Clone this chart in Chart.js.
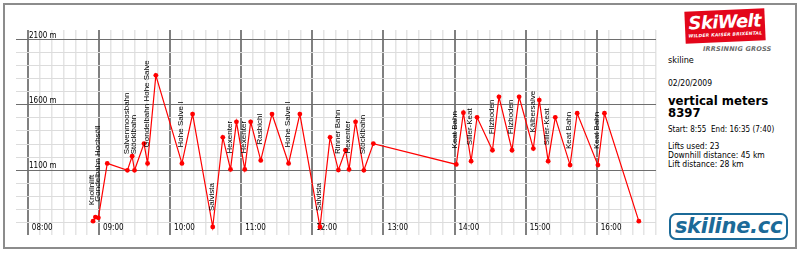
<!DOCTYPE html>
<html>
<head>
<meta charset="utf-8">
<script src="https://cdn.jsdelivr.net/npm/chart.js@4.4.1/dist/chart.umd.min.js"></script>
<style>
  body { margin: 0; background: #fff; }
  #wrap { position: relative; width: 800px; height: 253px; overflow: hidden; background: #fff;
          font-family: "DejaVu Sans Condensed", "DejaVu Sans", sans-serif; color: #000; }
  #frame { position: absolute; left: 3px; top: 3px; width: 790px; height: 242px; border: 2px solid #8c8c8c; }
  #chartBox { position: absolute; left: -10px; top: 0; }
  .t { position: absolute; left: 668px; white-space: nowrap; line-height: 1; }
  .b { font-size: 13px; font-weight: bold; }
  #skiwelt { position: absolute; left: 685px; top: 10px; width: 80px; height: 32px; background: #e3061a;
             transform: rotate(-2.5deg); color: #fff; text-align: center; overflow: hidden; }
  #skiwelt .big { font: italic bold 18px "DejaVu Sans", sans-serif; line-height: 1; margin-top: 3px; letter-spacing: -0.6px; }
  #skiwelt .small { font: italic bold 4.5px "DejaVu Sans", sans-serif; line-height: 1; margin-top: 2px; letter-spacing: 0.2px; }
  #irr { position: absolute; left: 703px; top: 46px; font: italic bold 6.5px "DejaVu Sans", sans-serif; color: #6a6a6a; letter-spacing: 0.2px; line-height: 1; }
  #skiline { position: absolute; left: 669px; top: 213px; width: 115px; height: 23px; border: 2px solid #1b6a98;
             border-radius: 7px; color: #1b6a98; font: italic bold 21px "DejaVu Sans", sans-serif;
             line-height: 23px; text-align: center; letter-spacing: -0.3px; }
</style>
</head>
<body>
<div id="wrap">
  <div id="frame"></div>
  <div id="chartBox"><canvas id="runChart" width="670" height="253"></canvas></div>
  <div id="skiwelt"><div class="big">SkiWelt</div><div class="small">WILDER KAISER BRIXENTAL</div></div>
  <div id="irr">IRRSINNIG GROSS</div>
  <div class="t" style="top:56px;font-size:9px">skiline</div>
  <div class="t" style="top:79px;font-size:8.5px">02/20/2009</div>
  <div class="t b" style="top:94px">vertical meters</div>
  <div class="t b" style="top:105.5px">8397</div>
  <div class="t" style="top:125.5px;font-size:8px">Start: 8:55&nbsp; End: 16:35 (7:40)</div>
  <div class="t" style="top:142px;font-size:8.5px">Lifts used: 23</div>
  <div class="t" style="top:151px;font-size:8.5px">Downhill distance: 45 km</div>
  <div class="t" style="top:160px;font-size:8.5px">Lift distance: 28 km</div>
  <div id="skiline">skiline.cc</div>
</div>
<script>
// time of day in minutes since midnight, elevation in metres
const times = [535, 537, 539.5, 547, 564, 568, 570, 578, 581, 588,
               610, 619, 636, 644.5, 651, 656, 663, 668, 676.5, 686,
               700, 709.5, 726.5, 735, 742, 748, 751, 756.5, 763.5, 771.5,
               841.5, 847.5, 854, 859, 872, 877.5, 888.5, 894.5, 906.5, 911.5,
               919, 925, 937.5, 943.5, 961, 966.5, 995.5];
const elevations = [708, 739, 733, 1151, 1098, 1206, 1098, 1303, 1151, 1827,
                    1151, 1530, 663, 1351, 1105, 1470, 1105, 1470, 1174, 1530,
                    1151, 1530, 663, 1351, 1100, 1252, 1105, 1470, 1098, 1303,
                    1143, 1540, 1168, 1505, 1252, 1662, 1252, 1662, 1265, 1637,
                    1168, 1505, 1138, 1536, 1138, 1536, 708];
// lift taken at each point (null = downhill run / lift top)
const liftNames = ['Knollnlift', null, 'Gondelbahn Hochsöll', null, 'Salvenmoosbahn', null, 'Stöcklbahn', null, 'Gondelbahn Hohe Salve', null,
                   'Hohe Salve I', null, 'Salvista', null, 'Hexenter', null, 'Hexenter', null, 'Rasbichl', null,
                   'Hohe Salve I', null, 'Salvista', null, 'Rinner Bahn', null, 'Hexenter', null, 'Stöcklbahn', null,
                   'Keat Bahn', null, 'Siller-Keat', null, 'Filzboden', null, 'Filzboden', null, 'Kälbersalve', null,
                   'Siller-Keat', null, 'Keat Bahn', null, 'Keat Bahn', null, null];
const majorHeights = [1100, 1600, 2100];

function hhmm(v) {
  const h = Math.floor(v / 60);
  return (h < 10 ? '0' : '') + h + ':00';
}

// lift names written upwards above the lift's valley station
const liftLabels = {
  id: 'liftLabels',
  afterDatasetsDraw(chart) {
    const meta = chart.getDatasetMeta(0);
    const c = chart.ctx;
    c.save();
    c.font = '8px "Liberation Sans", Arial, sans-serif';
    c.fillStyle = '#000';
    c.textAlign = 'left';
    c.textBaseline = 'middle';
    meta.data.forEach((pt, i) => {
      if (!liftNames[i]) return;
      c.save();
      c.translate(pt.x - 1, pt.y - 16);
      c.rotate(-Math.PI / 2);
      c.fillText(liftNames[i], 0, 0);
      c.restore();
    });
    c.restore();
  }
};

new Chart(document.getElementById('runChart'), {
  type: 'line',
  data: {
    datasets: [{
      data: times.map((t, i) => ({ x: t, y: elevations[i] })),
      borderColor: '#ff0000',
      backgroundColor: '#ff0000',
      borderWidth: 1.2,
      pointRadius: 2.4,
      pointBorderWidth: 0,
      tension: 0
    }]
  },
  options: {
    responsive: false,
    animation: false,
    devicePixelRatio: 1,
    layout: { padding: { left: 0, right: 3, top: 30, bottom: 13 } },
    plugins: { legend: { display: false }, tooltip: { enabled: false } },
    scales: {
      x: {
        type: 'linear',
        min: 470,
        max: 1010,
        border: { display: false },
        grid: {
          drawTicks: false,
          color: c => c.tick.value < 480 ? 'rgba(0,0,0,0)' : (c.tick.value % 60 === 0 ? '#808080' : '#e4e4e4'),
          lineWidth: c => c.tick.value % 60 === 0 ? 2 : 1.5
        },
        ticks: {
          stepSize: 10,
          autoSkip: false,
          maxRotation: 0,
          mirror: true,
          padding: 2,
          align: 'start',
          labelOffset: 4,
          color: '#000',
          font: { family: '"DejaVu Sans Condensed", "DejaVu Sans", sans-serif', size: 8 },
          callback: v => (v >= 480 && v % 60 === 0) ? hhmm(v) : ''
        }
      },
      y: {
        type: 'linear',
        min: 600,
        max: 2175,
        border: { display: false },
        grid: {
          drawTicks: false,
          color: c => {
            const v = c.tick.value;
            if (v <= 600 || v > 2100) return 'rgba(0,0,0,0)';
            return majorHeights.includes(v) ? '#6e6e6e' : '#dcdcdc';
          },
          lineWidth: 1
        },
        ticks: {
          stepSize: 100,
          autoSkip: false,
          mirror: true,
          padding: 13,
          labelOffset: -4,
          color: '#000',
          font: { family: '"DejaVu Sans Condensed", "DejaVu Sans", sans-serif', size: 8 },
          callback: v => majorHeights.includes(v) ? v + ' m' : ''
        }
      }
    }
  },
  plugins: [liftLabels]
});
</script>
</body>
</html>
